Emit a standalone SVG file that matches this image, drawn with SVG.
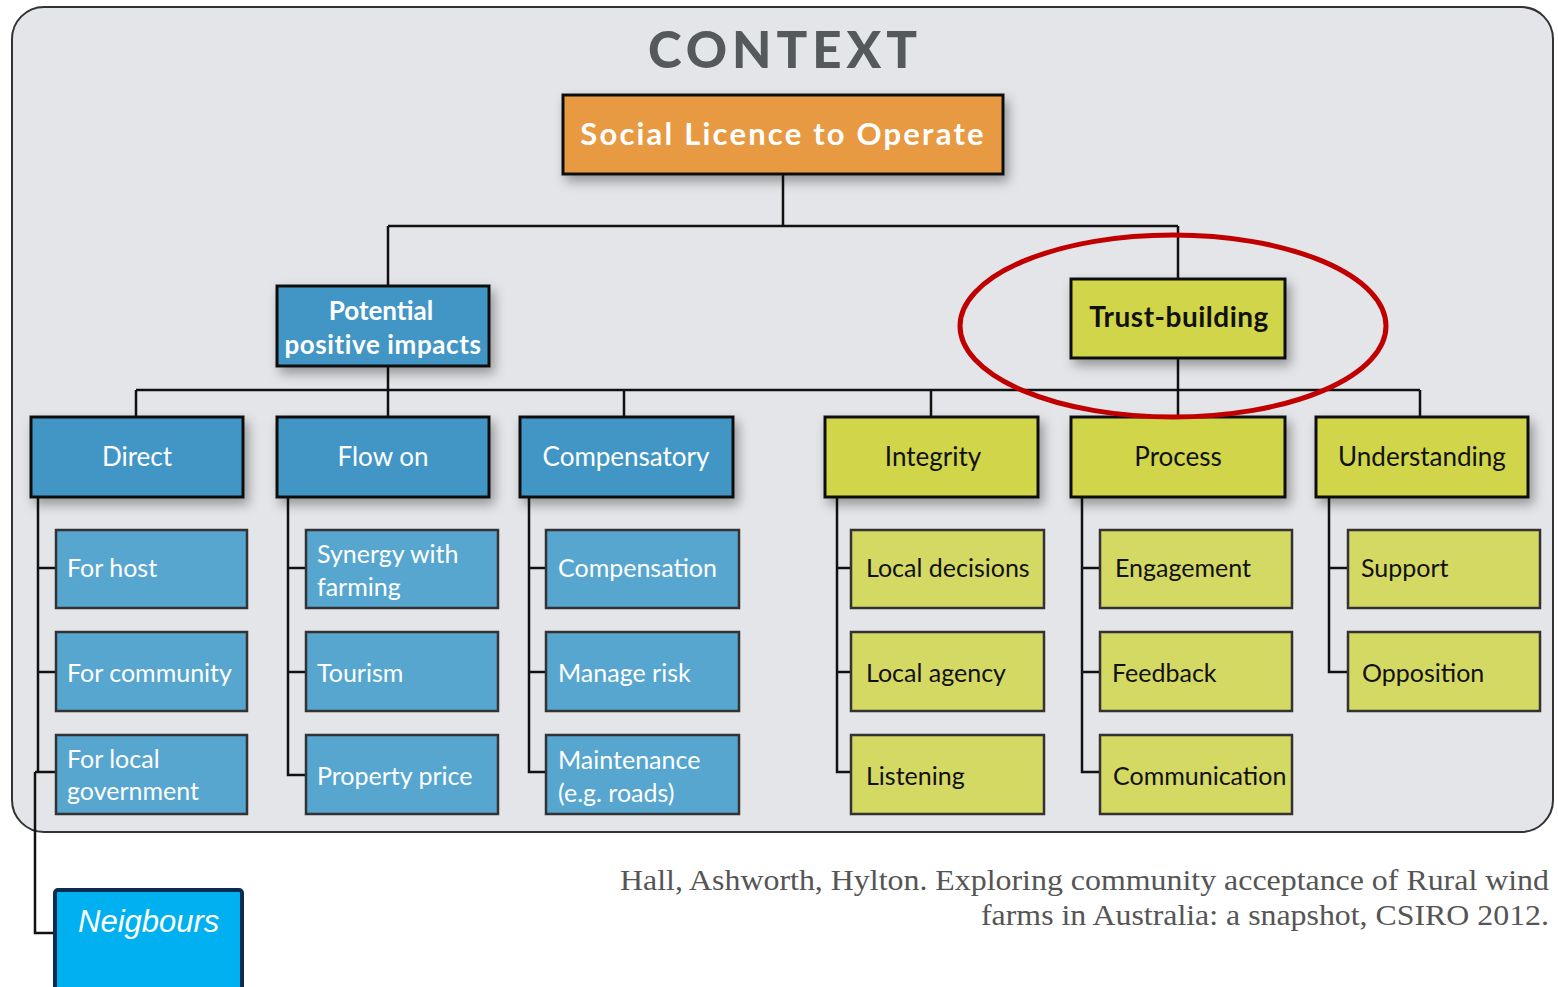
<svg xmlns="http://www.w3.org/2000/svg" width="1558" height="987" viewBox="0 0 1558 987">
<defs>
<filter id="sh" x="-20%" y="-20%" width="150%" height="160%">
<feDropShadow dx="4" dy="6" stdDeviation="6" flood-color="#000" flood-opacity="0.35"/>
</filter>
<style>
.bx{stroke:#111;stroke-width:3}
.sb{stroke:#333;stroke-width:2.5}
.blue{fill:#4396c6}
.lblue{fill:#56a6cf}
.yel{fill:#d0d54a}
.lyel{fill:#d4d964}
.t{font-family:Lato,"Open Sans","Liberation Sans",sans-serif}
.w{fill:#fff}
.k{fill:#111}
.l2{font-size:26px;text-anchor:middle}
.l3{font-size:25px}
.c{fill:none;stroke:#111;stroke-width:2.5}
</style>
</defs>
<rect x="0" y="0" width="1558" height="987" fill="#fff"/>
<rect x="12" y="7" width="1541" height="825" rx="32" fill="#e4e5e8" stroke="#333" stroke-width="2"/>
<text x="785" y="68" text-anchor="middle" font-family="Lato,'Liberation Sans',sans-serif" font-weight="900" font-size="51" letter-spacing="5" fill="#55595c">CONTEXT</text>

<g id="connectors" class="c">
<path d="M783 174V226M388 226H1178M388 226V286M1178 226V279"/>
<path d="M388 366V390M1178 358V390M136 390H1420M136 390V417M388 390V417M624 390V417M931 390V417M1178 390V417M1420 390V417"/>
<path d="M38 497V772M38 568H56M38 672H56M35 772H56"/>
<path d="M35 772V933H55"/>
<path d="M288 497V775H306M288 568H306M288 672H306"/>
<path d="M529 497V772H546M529 568H546M529 672H546"/>
<path d="M837 497V772H851M837 568H851M837 672H851"/>
<path d="M1082 497V772H1100M1082 568H1100M1082 672H1100"/>
<path d="M1329 497V672H1348M1329 568H1348"/>
</g>

<g id="slo"><rect x="563" y="95" width="440" height="79" fill="#e89a42" class="bx" filter="url(#sh)"/>
<text x="783" y="145" text-anchor="middle" class="t w" font-size="31" font-weight="bold" letter-spacing="2.2">Social Licence to Operate</text></g>

<g id="potential"><rect x="277" y="286" width="212" height="80" class="bx blue" filter="url(#sh)"/>
<text x="381" y="320" text-anchor="middle" class="t w" font-size="26" font-weight="bold">Potential</text>
<text x="383" y="354" text-anchor="middle" class="t w" font-size="26" font-weight="bold" letter-spacing="0.6">positive impacts</text></g>

<g id="trust"><rect x="1071" y="279" width="214" height="79" class="bx yel" filter="url(#sh)"/>
<text x="1179" y="327" text-anchor="middle" class="t k" font-size="28" font-weight="bold" letter-spacing="0.5">Trust-building</text></g>

<g id="direct"><rect x="31" y="417" width="212" height="80" class="bx blue" filter="url(#sh)"/><text x="137" y="466" class="t w l2">Direct</text></g>
<g id="flowon"><rect x="277" y="417" width="212" height="80" class="bx blue" filter="url(#sh)"/><text x="383" y="466" class="t w l2">Flow on</text></g>
<g id="compensatory"><rect x="520" y="417" width="213" height="80" class="bx blue" filter="url(#sh)"/><text x="626" y="466" class="t w l2">Compensatory</text></g>
<g id="integrity"><rect x="825" y="417" width="213" height="80" class="bx yel" filter="url(#sh)"/><text x="933" y="466" class="t k l2">Integrity</text></g>
<g id="process"><rect x="1071" y="417" width="214" height="80" class="bx yel" filter="url(#sh)"/><text x="1178" y="466" class="t k l2">Process</text></g>
<g id="understanding"><rect x="1316" y="417" width="212" height="80" class="bx yel" filter="url(#sh)"/><text x="1422" y="466" class="t k l2">Understanding</text></g>

<g id="forhost"><rect x="56" y="530" width="191" height="78" class="sb lblue"/><text x="67" y="577" class="t w l3">For host</text></g>
<g id="forcommunity"><rect x="56" y="632" width="191" height="79" class="sb lblue"/><text x="67" y="682" class="t w l3">For community</text></g>
<g id="forlocalgov"><rect x="56" y="735" width="191" height="79" class="sb lblue"/><text x="67" y="768" class="t w l3">For local</text><text x="67" y="800" class="t w l3">government</text></g>

<g id="synergy"><rect x="306" y="530" width="192" height="78" class="sb lblue"/><text x="317" y="563" class="t w l3">Synergy with</text><text x="317" y="596" class="t w l3">farming</text></g>
<g id="tourism"><rect x="306" y="632" width="192" height="79" class="sb lblue"/><text x="317" y="682" class="t w l3">Tourism</text></g>
<g id="property"><rect x="306" y="735" width="192" height="79" class="sb lblue"/><text x="317" y="785" class="t w l3">Property price</text></g>

<g id="compensation"><rect x="546" y="530" width="193" height="78" class="sb lblue"/><text x="558" y="577" class="t w l3">Compensation</text></g>
<g id="managerisk"><rect x="546" y="632" width="193" height="79" class="sb lblue"/><text x="558" y="682" class="t w l3">Manage risk</text></g>
<g id="maintenance"><rect x="546" y="735" width="193" height="79" class="sb lblue"/><text x="558" y="769" class="t w l3">Maintenance</text><text x="558" y="802" class="t w l3">(e.g. roads)</text></g>

<g id="localdecisions"><rect x="851" y="530" width="193" height="78" class="sb lyel"/><text x="866" y="577" class="t k l3">Local decisions</text></g>
<g id="localagency"><rect x="851" y="632" width="193" height="79" class="sb lyel"/><text x="866" y="682" class="t k l3">Local agency</text></g>
<g id="listening"><rect x="851" y="735" width="193" height="79" class="sb lyel"/><text x="866" y="785" class="t k l3">Listening</text></g>

<g id="engagement"><rect x="1100" y="530" width="192" height="78" class="sb lyel"/><text x="1115" y="577" class="t k l3">Engagement</text></g>
<g id="feedback"><rect x="1100" y="632" width="192" height="79" class="sb lyel"/><text x="1112" y="682" class="t k l3">Feedback</text></g>
<g id="communication"><rect x="1100" y="735" width="192" height="79" class="sb lyel"/><text x="1113" y="785" class="t k l3">Communication</text></g>

<g id="support"><rect x="1348" y="530" width="192" height="78" class="sb lyel"/><text x="1361" y="577" class="t k l3">Support</text></g>
<g id="opposition"><rect x="1348" y="632" width="192" height="79" class="sb lyel"/><text x="1362" y="682" class="t k l3">Opposition</text></g>

<ellipse cx="1173" cy="326" rx="213" ry="91" fill="none" stroke="#c00000" stroke-width="5"/>

<g id="neighbours"><rect x="55" y="890" width="187" height="110" rx="3" fill="#00b0f0" stroke="#0a2d4d" stroke-width="4"/>
<text x="78" y="932" font-family="'Liberation Sans',Arial,sans-serif" font-style="italic" font-size="31" fill="#fff">Neigbours</text></g>

<g id="citation" font-family="'Liberation Serif','DejaVu Serif',serif" font-size="29" fill="#555" text-anchor="end">
<text x="1549" y="890" textLength="929" lengthAdjust="spacingAndGlyphs">Hall, Ashworth, Hylton. Exploring community acceptance of Rural wind</text>
<text x="1549" y="925" textLength="568" lengthAdjust="spacingAndGlyphs">farms in Australia: a snapshot, CSIRO 2012.</text>
</g>
</svg>
